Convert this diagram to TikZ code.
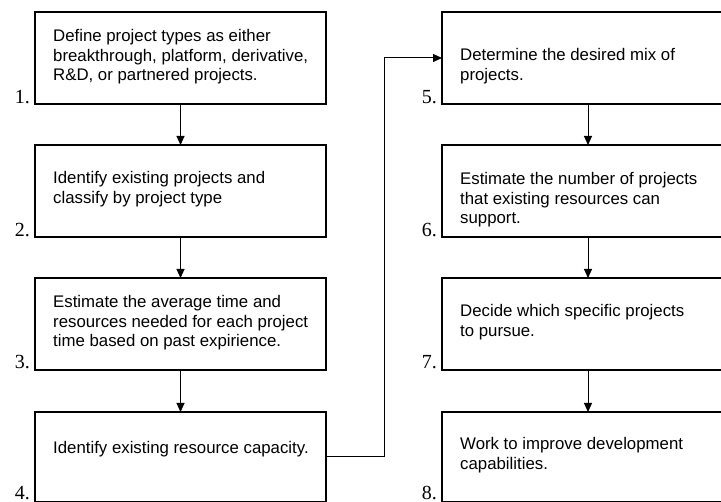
\documentclass[tikz,border=0pt]{standalone}
\usepackage{fontspec}
\setmainfont{Liberation Sans}
\newfontfamily\numfont{Liberation Serif}
\usetikzlibrary{arrows.meta}
\begin{document}
\begin{tikzpicture}[x=1pt,y=-1pt,
  box/.style={draw=black,line width=2.6pt,inner sep=0pt,outer sep=0pt,anchor=north west},
  lbox/.style={box,minimum width=291pt,minimum height=92pt},
  rbox/.style={box,minimum width=292pt,minimum height=92pt},
  txt/.style={anchor=base west,inner sep=0pt,align=left,font=\fontsize{16.8}{19.5}\selectfont},
  num/.style={anchor=base east,inner sep=0pt,font=\numfont\fontsize{20}{20}\selectfont},
  arr/.style={line width=1pt,-{Triangle[length=9pt,width=8pt]}}]
\useasboundingbox (0,0) rectangle (721,502);
\clip (0,0) rectangle (721,502);
% left column
\node[lbox] (b1) at (35,12) {};
\node[lbox] (b2) at (35,145) {};
\node[lbox] (b3) at (35,278) {};
\node[lbox,minimum height=90pt] (b4) at (35,412) {};
% right column
\node[rbox] (b5) at (442,12) {};
\node[rbox] (b6) at (442,145) {};
\node[rbox] (b7) at (442,278) {};
\node[rbox,minimum height=90pt] (b8) at (442,412) {};
% texts (anchor at baseline of last line)
\node[txt] (t1) at (53,81) {Define project types as either\\breakthrough, platform, derivative,\\R\&D, or partnered projects.};
\node[txt] (t2) at (53,203.5) {Identify existing projects and\\classify by project type};
\node[txt] (t3) at (53,347) {Estimate the average time and\\resources needed for each project\\time based on past expirience.};
\node[txt] (t4) at (53,454) {Identify existing resource capacity.};
\node[txt] (t5) at (460,80.5) {Determine the desired mix of\\projects.};
\node[txt] (t6) at (460,224) {Estimate the number of projects\\that existing resources can\\support.};
\node[txt] (t7) at (460,336.5) {Decide which specific projects\\to pursue.};
\node[txt] (t8) at (460,469.5) {Work to improve development\\capabilities.};
% numbers
\node[num] (n1) at (30,104) {1.};
\node[num] (n2) at (30,237) {2.};
\node[num] (n3) at (30,369) {3.};
\node[num] (n4) at (30,500) {4.};
\node[num] (n5) at (437,104) {5.};
\node[num] (n6) at (437,237) {6.};
\node[num] (n7) at (437,369) {7.};
\node[num] (n8) at (437,500) {8.};
% connectors
\draw[arr] (b1.south) -- (b2.north);
\draw[arr] (b2.south) -- (b3.north);
\draw[arr] (b3.south) -- (b4.north);
\draw[arr] (b5.south) -- (b6.north);
\draw[arr] (b6.south) -- (b7.north);
\draw[arr] (b7.south) -- (b8.north);
\draw[arr] (b4.east) -- ++(58,0) |- (b5.west);
\end{tikzpicture}
\end{document}
